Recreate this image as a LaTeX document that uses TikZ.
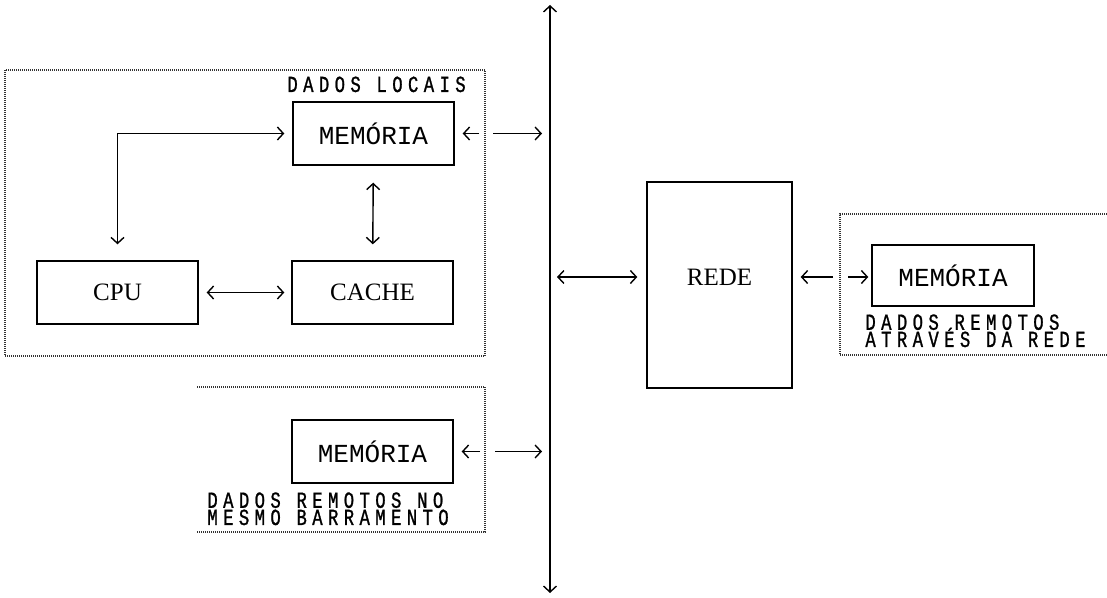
\documentclass[tikz,border=0pt]{standalone}
\usepackage{fontspec}
\setmainfont{Liberation Serif}
\newfontfamily\monofont{Liberation Mono}
\newfontfamily\labelfont[FakeStretch=0.75,FakeBold=1,LetterSpace=23.5]{Liberation Mono}
\usetikzlibrary{arrows.meta}
\setlength{\lineskiplimit}{-20pt}

\begin{document}
\begin{tikzpicture}[x=.5pt,y=-.5pt,
  block/.style={draw,line width=.7pt,minimum width=80.5pt,minimum height=31.5pt,inner sep=0pt,font=\fontsize{12.5}{14}\selectfont},
  memblock/.style={block,font=\monofont\fontsize{13}{14}\selectfont},
  link/.style={line width=.7pt,>={Straight Barb[length=3pt,width=6.5pt]}},
  zone/.style={black!80,line width=.6pt,dash pattern=on .5pt off .5pt},
  tag/.style={inner sep=0pt,align=left,font=\labelfont\fontsize{11.5}{8.6}\selectfont}]
\useasboundingbox (0,0) rectangle (1107,598);

\draw[zone] (5,70) rectangle (485,356);
\draw[zone] (197,387) -- (485,387) -- (485,532) -- (197,532);
\draw[zone] (1107,214) -- (840,214) -- (840,355) -- (1107,355);

\node[memblock] (memL) at (373.5,133.5) {MEMÓRIA};
\node[block] (cpu) at (117.5,292.5) {CPU};
\node[block] (cache) at (372.5,292.5) {CACHE};
\node[memblock] (memB) at (372.5,451.5) {MEMÓRIA};
\node[block,minimum width=72.5pt,minimum height=103pt,text depth=8pt] (rede) at (719.5,285) {REDE};
\node[memblock,minimum width=81pt,minimum height=30.5pt] (memR) at (953,275.5) {MEMÓRIA};

\node[tag,anchor=base west] (tagL) at (287,92) {DADOS LOCAIS};
\node[tag,anchor=north west] (tagB) at (207,492) {DADOS REMOTOS NO\\MESMO BARRAMENTO};
\node[tag,anchor=north west] (tagR) at (865,314) {DADOS REMOTOS\\ATRAVÉS DA REDE};

\coordinate (busT) at (550,5);
\coordinate (busB) at (550,593);
\draw[link,<->] (busT) -- (busB);

\draw[link,<->,shorten <=8pt,shorten >=4pt] (cpu.north) |- (memL.west);
\draw[link,<->,shorten <=4pt,shorten >=3.5pt] (cpu) -- (cache);
\draw[link,<->,shorten <=8.5pt,shorten >=8pt] (memL) -- (cache);

\coordinate (jL1) at (479,133.5);
\coordinate (jL2) at (493,133.5);
\draw[link,->,shorten >=4pt] (jL1) -- (memL);
\draw[link,->,shorten >=4pt] (jL2) -- (jL2 -| busT);

\coordinate (jB1) at (480,451.5);
\coordinate (jB2) at (495,451.5);
\draw[link,->,shorten >=4pt] (jB1) -- (memB);
\draw[link,->,shorten >=4pt] (jB2) -- (jB2 -| busT);

\coordinate (busR) at (550,277);
\draw[link,<->,shorten <=3.5pt,shorten >=4.5pt] (busR) -- (busR -| rede.west);
\coordinate (jR1) at (833,277);
\coordinate (jR2) at (848,277);
\draw[link,->,shorten >=4pt] (jR1) -- (jR1 -| rede.east);
\draw[link,->,shorten >=1.5pt] (jR2) -- (jR2 -| memR.west);
\end{tikzpicture}
\end{document}
